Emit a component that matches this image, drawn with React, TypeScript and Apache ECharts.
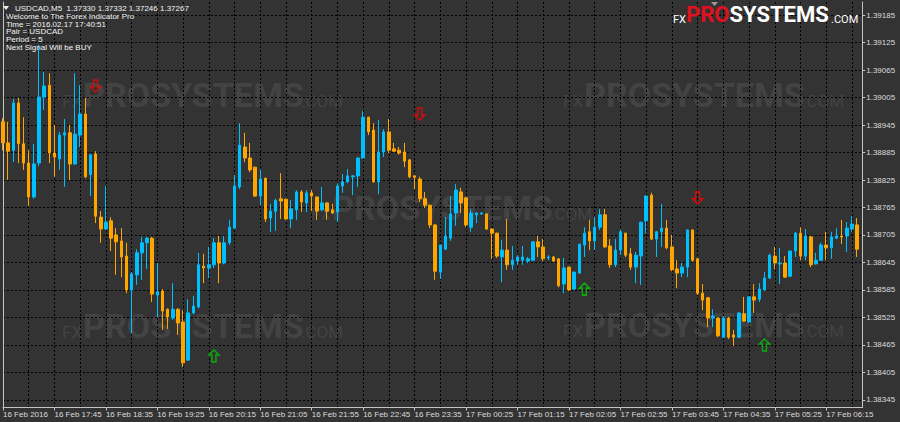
import React, { useEffect, useRef } from "react";
import * as echarts from "echarts";

// ---------- data ----------
const headerLines = [
  "USDCAD,M5  1.37330 1.37332 1.37246 1.37267",
  "Welcome to The Forex Indicator Pro",
  "Time = 2016.02.17 17:40:51",
  "Pair = USDCAD",
  "Period = 5",
  "Next Signal Will be BUY",
];

const xTickLabels = [
  "16 Feb 2016", "16 Feb 17:45", "16 Feb 18:35", "16 Feb 19:25", "16 Feb 20:15",
  "16 Feb 21:05", "16 Feb 21:55", "16 Feb 22:45", "16 Feb 23:35", "17 Feb 00:25",
  "17 Feb 01:15", "17 Feb 02:05", "17 Feb 02:55", "17 Feb 03:45", "17 Feb 04:35",
  "17 Feb 05:25", "17 Feb 06:15",
];

const yTicks = [
  1.38345, 1.38405, 1.38465, 1.38525, 1.38585, 1.38645, 1.38705, 1.38765,
  1.38825, 1.38885, 1.38945, 1.39005, 1.39065, 1.39125, 1.39185,
];

// 5-minute bars, 16 Feb 16:55 onward (one empty slot at the right edge)
const startDay = 16;
const startMinute = 16 * 60 + 55;
const barMinutes = 5;
const slotCount = 168;
const pad = (n: number) => (n < 10 ? "0" + n : "" + n);
const categories = Array.from({ length: slotCount }, (_, i) => {
  const t = startMinute + i * barMinutes;
  const day = startDay + Math.floor(t / 1440);
  const m = t % 1440;
  return `${day} Feb ${pad(Math.floor(m / 60))}:${pad(m % 60)}`;
});

// [open, close, low, high]
const ohlc: number[][] = [
  [1.38952, 1.38906, 1.38890, 1.38960],
  [1.38906, 1.38888, 1.38825, 1.38952],
  [1.38890, 1.38993, 1.38864, 1.39002],
  [1.38993, 1.38904, 1.38862, 1.39004],
  [1.38904, 1.38862, 1.38847, 1.38962],
  [1.38862, 1.38788, 1.38768, 1.38890],
  [1.38788, 1.38860, 1.38784, 1.38904],
  [1.38862, 1.39006, 1.38855, 1.39120],
  [1.39006, 1.39030, 1.38978, 1.39061],
  [1.39032, 1.38884, 1.38862, 1.39058],
  [1.38884, 1.38875, 1.38832, 1.38945],
  [1.38871, 1.38923, 1.38847, 1.38930],
  [1.38923, 1.38928, 1.38810, 1.38958],
  [1.38928, 1.38860, 1.38825, 1.38945],
  [1.38860, 1.38925, 1.38858, 1.39058],
  [1.38923, 1.38969, 1.38897, 1.39032],
  [1.38969, 1.38832, 1.38829, 1.39004],
  [1.38837, 1.38880, 1.38790, 1.38880],
  [1.38882, 1.38746, 1.38731, 1.38888],
  [1.38744, 1.38718, 1.38688, 1.38757],
  [1.38718, 1.38733, 1.38716, 1.38812],
  [1.38736, 1.38698, 1.38670, 1.38744],
  [1.38705, 1.38690, 1.38618, 1.38720],
  [1.38692, 1.38657, 1.38613, 1.38720],
  [1.38659, 1.38585, 1.38578, 1.38688],
  [1.38585, 1.38620, 1.38491, 1.38624],
  [1.38618, 1.38666, 1.38596, 1.38674],
  [1.38666, 1.38688, 1.38607, 1.38701],
  [1.38688, 1.38698, 1.38631, 1.38701],
  [1.38698, 1.38576, 1.38559, 1.38701],
  [1.38574, 1.38581, 1.38526, 1.38644],
  [1.38583, 1.38539, 1.38498, 1.38587],
  [1.38543, 1.38526, 1.38500, 1.38545],
  [1.38524, 1.38543, 1.38520, 1.38600],
  [1.38543, 1.38513, 1.38487, 1.38545],
  [1.38515, 1.38426, 1.38417, 1.38541],
  [1.38432, 1.38535, 1.38430, 1.38565],
  [1.38535, 1.38550, 1.38532, 1.38572],
  [1.38548, 1.38640, 1.38545, 1.38666],
  [1.38637, 1.38633, 1.38600, 1.38664],
  [1.38633, 1.38640, 1.38611, 1.38679],
  [1.38640, 1.38688, 1.38633, 1.38698],
  [1.38688, 1.38644, 1.38600, 1.38703],
  [1.38644, 1.38688, 1.38641, 1.38703],
  [1.38688, 1.38722, 1.38683, 1.38738],
  [1.38720, 1.38812, 1.38718, 1.38836],
  [1.38810, 1.38901, 1.38805, 1.38949],
  [1.38897, 1.38873, 1.38864, 1.38928],
  [1.38873, 1.38847, 1.38842, 1.38906],
  [1.38853, 1.38790, 1.38788, 1.38854],
  [1.38790, 1.38827, 1.38770, 1.38847],
  [1.38829, 1.38740, 1.38733, 1.38830],
  [1.38742, 1.38757, 1.38712, 1.38773],
  [1.38757, 1.38781, 1.38714, 1.38784],
  [1.38784, 1.38779, 1.38740, 1.38840],
  [1.38783, 1.38740, 1.38738, 1.38785],
  [1.38740, 1.38762, 1.38720, 1.38781],
  [1.38760, 1.38799, 1.38738, 1.38803],
  [1.38799, 1.38777, 1.38755, 1.38803],
  [1.38775, 1.38797, 1.38755, 1.38803],
  [1.38797, 1.38790, 1.38757, 1.38803],
  [1.38788, 1.38757, 1.38738, 1.38789],
  [1.38760, 1.38775, 1.38757, 1.38810],
  [1.38775, 1.38757, 1.38738, 1.38776],
  [1.38760, 1.38753, 1.38751, 1.38773],
  [1.38755, 1.38812, 1.38733, 1.38818],
  [1.38812, 1.38821, 1.38797, 1.38838],
  [1.38821, 1.38834, 1.38818, 1.38849],
  [1.38832, 1.38834, 1.38792, 1.38836],
  [1.38834, 1.38873, 1.38810, 1.38875],
  [1.38873, 1.38962, 1.38871, 1.38976],
  [1.38962, 1.38930, 1.38923, 1.38963],
  [1.38934, 1.38821, 1.38819, 1.38949],
  [1.38821, 1.38886, 1.38794, 1.38956],
  [1.38886, 1.38930, 1.38875, 1.38936],
  [1.38930, 1.38890, 1.38884, 1.38958],
  [1.38893, 1.38888, 1.38886, 1.38906],
  [1.38890, 1.38884, 1.38880, 1.38897],
  [1.38886, 1.38866, 1.38853, 1.38906],
  [1.38869, 1.38832, 1.38829, 1.38870],
  [1.38834, 1.38831, 1.38805, 1.38836],
  [1.38827, 1.38784, 1.38777, 1.38832],
  [1.38784, 1.38770, 1.38764, 1.38799],
  [1.38770, 1.38727, 1.38720, 1.38771],
  [1.38727, 1.38626, 1.38607, 1.38728],
  [1.38624, 1.38683, 1.38609, 1.38684],
  [1.38674, 1.38703, 1.38672, 1.38744],
  [1.38698, 1.38751, 1.38692, 1.38790],
  [1.38753, 1.38803, 1.38725, 1.38816],
  [1.38799, 1.38775, 1.38753, 1.38808],
  [1.38786, 1.38727, 1.38722, 1.38787],
  [1.38722, 1.38753, 1.38712, 1.38762],
  [1.38749, 1.38753, 1.38731, 1.38754],
  [1.38751, 1.38753, 1.38749, 1.38755],
  [1.38751, 1.38718, 1.38716, 1.38752],
  [1.38718, 1.38709, 1.38653, 1.38719],
  [1.38709, 1.38659, 1.38655, 1.38710],
  [1.38657, 1.38672, 1.38602, 1.38694],
  [1.38672, 1.38640, 1.38629, 1.38740],
  [1.38640, 1.38650, 1.38629, 1.38681],
  [1.38648, 1.38657, 1.38640, 1.38661],
  [1.38650, 1.38657, 1.38640, 1.38681],
  [1.38648, 1.38653, 1.38644, 1.38657],
  [1.38650, 1.38690, 1.38648, 1.38691],
  [1.38690, 1.38679, 1.38657, 1.38703],
  [1.38679, 1.38653, 1.38648, 1.38696],
  [1.38655, 1.38657, 1.38650, 1.38661],
  [1.38657, 1.38648, 1.38647, 1.38659],
  [1.38653, 1.38594, 1.38591, 1.38654],
  [1.38598, 1.38633, 1.38578, 1.38655],
  [1.38635, 1.38585, 1.38583, 1.38636],
  [1.38587, 1.38624, 1.38586, 1.38625],
  [1.38622, 1.38685, 1.38620, 1.38686],
  [1.38683, 1.38709, 1.38657, 1.38722],
  [1.38712, 1.38692, 1.38672, 1.38738],
  [1.38692, 1.38722, 1.38672, 1.38744],
  [1.38722, 1.38749, 1.38716, 1.38762],
  [1.38749, 1.38679, 1.38677, 1.38762],
  [1.38681, 1.38640, 1.38633, 1.38696],
  [1.38640, 1.38672, 1.38635, 1.38696],
  [1.38672, 1.38712, 1.38661, 1.38716],
  [1.38709, 1.38661, 1.38657, 1.38710],
  [1.38664, 1.38635, 1.38629, 1.38677],
  [1.38635, 1.38661, 1.38600, 1.38668],
  [1.38659, 1.38733, 1.38596, 1.38734],
  [1.38736, 1.38790, 1.38709, 1.38792],
  [1.38792, 1.38696, 1.38694, 1.38797],
  [1.38696, 1.38712, 1.38657, 1.38714],
  [1.38712, 1.38720, 1.38679, 1.38773],
  [1.38720, 1.38677, 1.38674, 1.38738],
  [1.38679, 1.38629, 1.38626, 1.38705],
  [1.38631, 1.38622, 1.38589, 1.38650],
  [1.38622, 1.38635, 1.38613, 1.38644],
  [1.38635, 1.38716, 1.38613, 1.38717],
  [1.38716, 1.38650, 1.38646, 1.38717],
  [1.38653, 1.38578, 1.38574, 1.38655],
  [1.38578, 1.38563, 1.38541, 1.38598],
  [1.38568, 1.38524, 1.38504, 1.38570],
  [1.38524, 1.38528, 1.38504, 1.38543],
  [1.38524, 1.38485, 1.38482, 1.38525],
  [1.38482, 1.38524, 1.38480, 1.38528],
  [1.38524, 1.38482, 1.38478, 1.38526],
  [1.38487, 1.38482, 1.38463, 1.38498],
  [1.38482, 1.38535, 1.38480, 1.38536],
  [1.38533, 1.38517, 1.38515, 1.38570],
  [1.38515, 1.38570, 1.38513, 1.38571],
  [1.38570, 1.38563, 1.38535, 1.38598],
  [1.38565, 1.38587, 1.38559, 1.38600],
  [1.38585, 1.38611, 1.38583, 1.38624],
  [1.38611, 1.38661, 1.38609, 1.38664],
  [1.38659, 1.38644, 1.38631, 1.38679],
  [1.38642, 1.38644, 1.38598, 1.38677],
  [1.38644, 1.38613, 1.38612, 1.38659],
  [1.38615, 1.38670, 1.38613, 1.38671],
  [1.38670, 1.38709, 1.38657, 1.38712],
  [1.38709, 1.38659, 1.38650, 1.38722],
  [1.38659, 1.38703, 1.38650, 1.38718],
  [1.38701, 1.38640, 1.38635, 1.38703],
  [1.38642, 1.38650, 1.38640, 1.38666],
  [1.38650, 1.38683, 1.38648, 1.38688],
  [1.38683, 1.38677, 1.38650, 1.38712],
  [1.38677, 1.38701, 1.38653, 1.38712],
  [1.38698, 1.38703, 1.38696, 1.38720],
  [1.38703, 1.38701, 1.38685, 1.38738],
  [1.38703, 1.38720, 1.38668, 1.38733],
  [1.38718, 1.38729, 1.38712, 1.38746],
  [1.38727, 1.38674, 1.38657, 1.38742],
];

const sellSignalBars = [18, 81, 135];
const sellSignalPrices = [1.3903, 1.38969, 1.38786];
const buySignalBars = [41, 113, 148];
const buySignalPrices = [1.38441, 1.38587, 1.38465];

// ---------- styles ----------
const BG = "#333333";
const FRAME = "#c4c4c4";
const LABEL = "#dcdcdc";
const WM = "#434343";
const FONT = "'Liberation Sans', Arial, sans-serif";

function watermark(x: number, y: number) {
  return {
    type: "group",
    x,
    y,
    silent: true,
    children: [
      { type: "text", x: 0, y: 6, style: { text: "FX", font: "17px Roboto", fill: WM, textVerticalAlign: "middle", verticalAlign: "middle" } },
      { type: "text", x: 21, y: 0, style: { text: "PROSYSTEMS", font: "bold 34px Roboto", fill: WM, textVerticalAlign: "middle", verticalAlign: "middle" } },
      { type: "text", x: 239, y: 6, style: { text: ".COM", font: "17px Roboto", fill: WM, textVerticalAlign: "middle", verticalAlign: "middle" } },
    ],
  };
}

export default function App() {
  const ref = useRef<HTMLDivElement>(null);
  useEffect(() => {
    if (!ref.current) return;
    const chart = echarts.init(ref.current, null, { renderer: "svg" });
    const yMin = 1.383286;
    const yMax = 1.392134;
    const header = headerLines.map((t, i) => ({
      type: "text",
      x: i === 0 ? 15 : 6,
      y: 8.5 + i * 7.8,
      z: 10,
      style: { text: t, font: `8px ${FONT}`, fill: "#f4f4f4", textVerticalAlign: "middle", verticalAlign: "middle" },
    }));
    chart.setOption({
      animation: false,
      backgroundColor: BG,
      grid: { left: 2.2, right: 37.75, top: 2, bottom: 14.5, containLabel: false },
      xAxis: {
        type: "category",
        data: categories,
        boundaryGap: false,
        axisLine: { show: true, lineStyle: { color: FRAME, width: 1 } },
        axisTick: {
          show: true,
          length: 3,
          interval: (i: number) => i % 10 === 0 && i / 10 < xTickLabels.length,
          lineStyle: { color: FRAME },
        },
        axisLabel: {
          interval: (i: number) => i % 10 === 0 && i / 10 < xTickLabels.length,
          formatter: (_v: string, i: number) => xTickLabels[i / 10] ?? "",
          align: "left",
          margin: 3,
          color: LABEL,
          fontSize: 8,
          fontFamily: FONT,
          hideOverlap: false,
        },
        splitLine: {
          show: true,
          interval: (i: number) => i > 0 && i % 5 === 0,
          lineStyle: { color: "#000000", width: 1, type: [2, 2] },
        },
      },
      yAxis: [
        {
          type: "value",
          position: "right",
          min: yMin,
          max: yMax,
          axisLine: { show: true, lineStyle: { color: FRAME, width: 1 } },
          axisTick: { show: true, length: 3, customValues: yTicks, lineStyle: { color: FRAME } },
          axisLabel: {
            customValues: yTicks,
            formatter: (v: number) => v.toFixed(5),
            color: LABEL,
            fontSize: 8,
            fontFamily: FONT,
            margin: 4,
          },
          splitLine: { show: true, lineStyle: { color: "#000000", width: 1, type: [2, 2] } },
        },
        {
          type: "value",
          position: "left",
          min: yMin,
          max: yMax,
          axisLine: { show: true, lineStyle: { color: FRAME, width: 1 } },
          axisTick: { show: false },
          axisLabel: { show: false },
          splitLine: { show: false },
        },
      ],
      series: [
        {
          type: "candlestick",
          yAxisIndex: 0,
          data: ohlc,
          barWidth: 3,
          itemStyle: {
            color: "#00bfff",
            color0: "#ffa500",
            borderColor: "#00bfff",
            borderColor0: "#ffa500",
            borderWidth: 1,
          },
        },
        {
          type: "scatter",
          yAxisIndex: 0,
          data: sellSignalBars.map((b, i) => [b, sellSignalPrices[i]]),
          symbol: "path://M3,0H7V7H10L5,12L0,7H3Z",
          symbolSize: [10, 12],
          itemStyle: { color: "rgba(0,0,0,0)", borderColor: "#ff0000", borderWidth: 1.5 },
          z: 5,
        },
        {
          type: "scatter",
          yAxisIndex: 0,
          data: buySignalBars.map((b, i) => [b, buySignalPrices[i]]),
          symbol: "path://M3,12H7V5H10L5,0L0,5H3Z",
          symbolSize: [10, 12],
          itemStyle: { color: "rgba(0,0,0,0)", borderColor: "#00cc00", borderWidth: 1.5 },
          z: 5,
        },
      ],
      graphic: [
        watermark(62, 94.5),
        watermark(563, 94.5),
        watermark(311, 207.5),
        watermark(62, 325.5),
        watermark(563, 325),
        ...header,
        { type: "polygon", z: 10, shape: { points: [[3, 6], [9, 6], [6, 10]] }, style: { fill: "#f0f0f0" } },
        { type: "polygon", z: 10, shape: { points: [[711, 2], [718, 2], [714.5, 6]] }, style: { fill: "#9a9a9a" } },
        { type: "text", x: 673, y: 19, z: 10, style: { text: "FX", font: "11px Roboto", fill: "#ffffff", textVerticalAlign: "middle", verticalAlign: "middle" } },
        {
          type: "text",
          x: 686,
          y: 14.7,
          z: 10,
          style: {
            text: "{p|PRO}{s|SYSTEMS}",
            rich: {
              p: { font: "bold 22px Roboto", fill: "#e0101c", color: "#e0101c" },
              s: { font: "bold 22px Roboto", fill: "#ffffff", color: "#ffffff" },
            },
            textVerticalAlign: "middle",
            verticalAlign: "middle",
          },
        },
        { type: "text", x: 831, y: 19, z: 10, style: { text: ".COM", font: "11px Roboto", fill: "#ffffff", textVerticalAlign: "middle", verticalAlign: "middle" } },
      ],
    });
    return () => chart.dispose();
  }, []);
  return (
    <div
      ref={ref}
      style={{ position: "fixed", left: 0, top: 0, width: 900, height: 422, background: BG }}
    />
  );
}
